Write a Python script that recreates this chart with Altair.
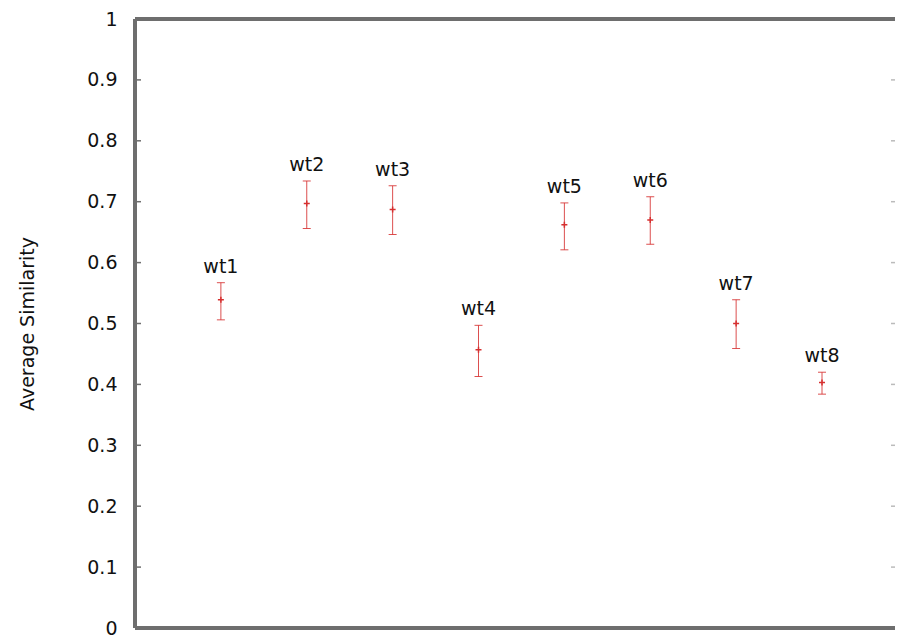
import altair as alt
import pandas as pd

names = ["wt1", "wt2", "wt3", "wt4", "wt5", "wt6", "wt7", "wt8"]
positions = [1, 2, 3, 4, 5, 6, 7, 8]
means = [0.539, 0.697, 0.687, 0.457, 0.662, 0.670, 0.500, 0.403]
lower = [0.506, 0.656, 0.646, 0.413, 0.621, 0.630, 0.459, 0.384]
upper = [0.567, 0.734, 0.726, 0.497, 0.698, 0.708, 0.539, 0.420]
y_ticks = [0, 0.1, 0.2, 0.3, 0.4, 0.5, 0.6, 0.7, 0.8, 0.9, 1]

W = 760
H = 609
RED = "#d63030"
FRAME = "#6e6e6e"
FONT = "DejaVu Sans"
FS = 19

df = pd.DataFrame({"name": names, "pos": positions, "mean": means,
                   "lo": lower, "hi": upper})
ticks_df = pd.DataFrame({"v": y_ticks})

xs = alt.Scale(domain=[0, 8.85], nice=False, zero=True)
ys = alt.Scale(domain=[0, 1], nice=False)

yaxis = alt.Axis(values=y_ticks, title="Average Similarity",
                 labelExpr="datum.value == 0 ? '0' : datum.value == 1 ? '1' : format(datum.value, '.1f')",
                 domain=False, ticks=False, grid=False,
                 labelFont=FONT, labelFontSize=FS, labelColor="#111",
                 labelPadding=18, titleFont=FONT, titleFontSize=FS,
                 titleFontWeight="normal", titleColor="#111",
                 titlePadding=49)


def Y(field):
    return alt.Y(field, scale=ys, axis=yaxis, title="Average Similarity")


def X(field):
    return alt.X(field, scale=xs, axis=None)


base = alt.Chart(df)

left_ticks = alt.Chart(ticks_df).mark_rule(color=FRAME, strokeWidth=1.5).encode(
    y=Y("v:Q"), x=alt.value(0), x2=alt.value(6))
right_ticks = alt.Chart(ticks_df).mark_rule(color="#bbbbbb", strokeWidth=1.5).encode(
    y=Y("v:Q"), x=alt.value(W - 4), x2=alt.value(W))

frame_left = alt.Chart(ticks_df).mark_rule(color=FRAME, strokeWidth=3).encode(
    x=alt.value(0), y=alt.value(0), y2=alt.value(H))
frame_top = alt.Chart(ticks_df).mark_rule(color=FRAME, strokeWidth=3).encode(
    y=alt.value(0), x=alt.value(0), x2=alt.value(W))
frame_bottom = alt.Chart(ticks_df).mark_rule(color=FRAME, strokeWidth=3).encode(
    y=alt.value(H), x=alt.value(0), x2=alt.value(W))

bars = base.mark_rule(color=RED, strokeWidth=1, opacity=0.85).encode(
    x=X("pos:Q"), y=Y("lo:Q"), y2="hi:Q")
caps_hi = base.mark_tick(orient="horizontal", color=RED, size=8, thickness=1,
                         opacity=0.85).encode(x=X("pos:Q"), y=Y("hi:Q"))
caps_lo = base.mark_tick(orient="horizontal", color=RED, size=8, thickness=1,
                         opacity=0.85).encode(x=X("pos:Q"), y=Y("lo:Q"))
centers = base.mark_point(shape="M-1,0L1,0M0,-1L0,1", size=36, color=RED,
                          strokeWidth=1.5, filled=False, opacity=1).encode(
    x=X("pos:Q"), y=Y("mean:Q"))
labels = base.mark_text(font=FONT, fontSize=FS, color="#111", dy=-10,
                        baseline="alphabetic", align="center").encode(
    x=X("pos:Q"), y=Y("hi:Q"), text="name:N")

chart = alt.layer(left_ticks, right_ticks, frame_left, frame_top,
                  frame_bottom, bars, caps_hi, caps_lo, centers, labels).properties(
    width=W, height=H,
    padding={"left": 10, "top": 2, "right": 0, "bottom": 0},
    background="white",
).configure_view(stroke=None)

chart.save("out.html", embed_options={"renderer": "svg", "actions": False})
